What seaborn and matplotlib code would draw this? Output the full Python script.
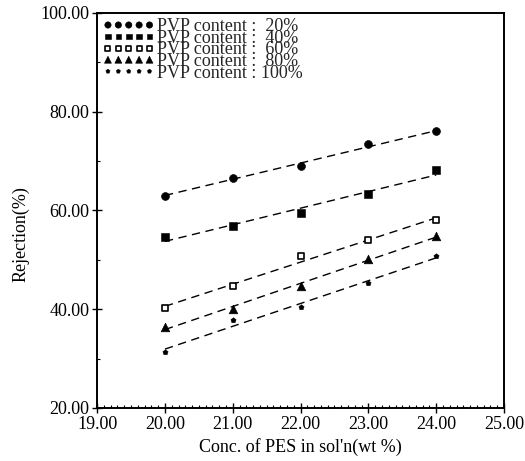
import numpy as np
import pandas as pd
import matplotlib
matplotlib.use("Agg")
import matplotlib.pyplot as plt
import seaborn as sns
from matplotlib.ticker import MultipleLocator, FormatStrFormatter

# === DATA ===
pes_conc = [20.0, 21.0, 22.0, 23.0, 24.0]
pvp_20 = [63.0, 66.6, 69.0, 73.4, 76.0]
pvp_40 = [54.6, 56.8, 59.4, 63.4, 68.1]
pvp_60 = [40.3, 44.6, 50.8, 54.0, 58.0]
pvp_80 = [36.5, 40.0, 44.7, 50.2, 54.8]
pvp_100 = [31.4, 37.8, 40.5, 45.4, 50.7]
labels = ["PVP content :  20%", "PVP content :  40%", "PVP content :  60%",
          "PVP content :  80%", "PVP content : 100%"]

series = [pvp_20, pvp_40, pvp_60, pvp_80, pvp_100]

# === STYLE ===
sns.set_theme(style="ticks")
plt.rcParams['font.family'] = ['Liberation Serif', 'DejaVu Serif']

marker_styles = [
    dict(marker="o", s=32, color="black", edgecolor="black"),
    dict(marker="s", s=26, color="black", edgecolor="black"),
    dict(marker="s", s=20, color="white", edgecolor="black", linewidth=1.2),
    dict(marker="^", s=38, color="black", edgecolor="black"),
    dict(marker="p", s=16, color="black", edgecolor="black"),
]

fig = plt.figure(figsize=(5.25, 4.61), dpi=100)
ax = fig.add_axes([0.185, 0.115, 0.775, 0.857])

for vals, lab, mk in zip(series, labels, marker_styles):
    df = pd.DataFrame({"conc": pes_conc, "rej": vals})
    sns.regplot(data=df, x="conc", y="rej", ax=ax, scatter=False, ci=None,
                truncate=True,
                line_kws=dict(color="black", lw=1.0, ls=(0, (6, 4))))
    sns.scatterplot(data=df, x="conc", y="rej", ax=ax, label=lab, zorder=3, **mk)

# === AXES ===
ax.set_xlim(19, 25)
ax.set_ylim(20, 100)
ax.xaxis.set_major_locator(MultipleLocator(1))
ax.yaxis.set_major_locator(MultipleLocator(20))
ax.xaxis.set_minor_locator(MultipleLocator(0.1))
ax.yaxis.set_minor_locator(MultipleLocator(10))
ax.xaxis.set_major_formatter(FormatStrFormatter("%.2f"))
ax.yaxis.set_major_formatter(FormatStrFormatter("%.2f"))
ax.tick_params(which="major", direction="inout", length=7, width=1.0,
               labelsize=13, colors="black", pad=2)
ax.tick_params(which="minor", direction="in", length=2, width=0.8, colors="black")
for sp in ax.spines.values():
    sp.set_visible(True)
    sp.set_color("black")
    sp.set_linewidth(1.4)

ax.set_xlabel("Conc. of PES in sol'n(wt %)", fontsize=13, color="black", labelpad=4)
ax.set_ylabel("Rejection(%)", fontsize=13, color="black")
ax.yaxis.set_label_coords(-0.165, 0.44)

leg = ax.legend(loc="upper left", scatterpoints=5, scatteryoffsets=[0.5],
                frameon=False, fontsize=13, markerscale=0.8,
                labelspacing=-0.3, handletextpad=0.1, handlelength=2.9,
                borderaxespad=0.1, borderpad=0.2)

fig.savefig("out.png", dpi=100)
